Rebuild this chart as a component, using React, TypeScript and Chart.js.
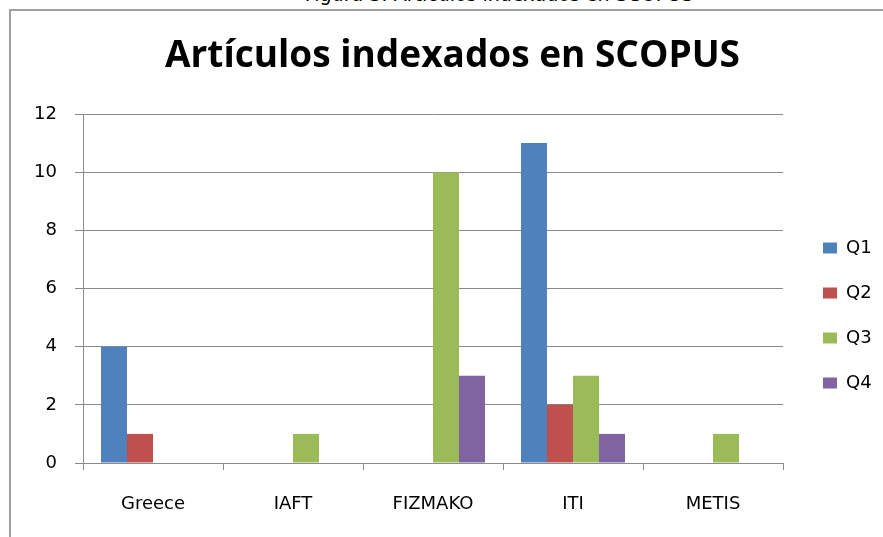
import React, { useEffect, useRef } from 'react';
import { Chart, registerables } from 'chart.js';

Chart.register(...registerables);

// ---- data ----
const categories = ['Greece', 'IAFT', 'FIZMAKO', 'ITI', 'METIS'];
const seriesNames = ['Q1', 'Q2', 'Q3', 'Q4'];
const q1Values = [4, 0, 0, 11, 0];
const q2Values = [1, 0, 0, 2, 0];
const q3Values = [0, 1, 10, 3, 1];
const q4Values = [0, 0, 3, 1, 0];
const yMin = 0;
const yMax = 12;
const yStep = 2;
const chartTitle = 'Artículos indexados en SCOPUS';
const captionText = 'Figura 3: Artículos indexados en SCOPUS';

// ---- styles ----
const seriesColors = ['#4F81BD', '#C0504D', '#9BBB59', '#8064A2'];
const gridColor = '#8a8a8a';
const labelFont = { family: '"DejaVu Sans", sans-serif', size: 18 };
const CANVAS_W = 883;
const CANVAS_H = 537;
const PLOT_RIGHT = 783;
const PLOT_BOTTOM = 463;
const Y_AXIS_WIDTH = 83;
const TITLE_SHIFT_X = 11;
const LEGEND_LEFT = 796;
const LEGEND_SHIFT_Y = 47;

const nudgePlugin = {
  id: 'nudge',
  afterLayout(chart: any) {
    const t = chart.titleBlock;
    if (t) {
      t.left += TITLE_SHIFT_X;
      t.right += TITLE_SHIFT_X;
    }
    const lg = chart.legend;
    if (lg) {
      const dx = LEGEND_LEFT - lg.left;
      lg.left += dx;
      lg.right += dx;
      lg.top += LEGEND_SHIFT_Y;
      lg.bottom += LEGEND_SHIFT_Y;
    }
  },
};

export default function App() {
  const ref = useRef<HTMLCanvasElement>(null);

  useEffect(() => {
    if (!ref.current) return;
    const seriesValues = [q1Values, q2Values, q3Values, q4Values];
    const chart = new Chart(ref.current, {
      type: 'bar',
      data: {
        labels: categories,
        datasets: seriesNames.map((name, i) => ({
          label: name,
          data: seriesValues[i],
          backgroundColor: seriesColors[i],
          borderWidth: 0,
          categoryPercentage: 0.743,
          barPercentage: 1.0,
          yAxisID: 'y',
        })),
      },
      options: {
        responsive: false,
        animation: false,
        layout: { padding: 0 },
        plugins: {
          title: {
            display: true,
            text: chartTitle,
            color: '#000',
            font: { family: '"Open Sans", sans-serif', size: 37, weight: 'bold' },
            padding: { top: 34, bottom: 35.6 },
          },
          legend: {
            position: 'right',
            labels: {
              boxWidth: 14,
              boxHeight: 11,
              padding: 27,
              color: '#000',
              font: labelFont,
            },
          },
          tooltip: { enabled: false },
        },
        scales: {
          x: {
            offset: true,
            grid: {
              offset: true,
              drawOnChartArea: false,
              drawTicks: true,
              tickLength: 7,
              color: gridColor,
            },
            border: { display: true, color: gridColor },
            ticks: { color: '#000', font: labelFont, padding: 24, maxRotation: 0 },
            afterFit: (s: any) => {
              s.height = CANVAS_H - PLOT_BOTTOM;
            },
          },
          y: {
            min: yMin,
            max: yMax,
            position: 'left',
            ticks: { stepSize: yStep, color: '#000', font: labelFont, padding: 18 },
            grid: { color: gridColor, tickLength: 8 },
            border: { display: true, color: gridColor },
            afterFit: (s: any) => {
              s.width = Y_AXIS_WIDTH;
            },
          },
          yPad: {
            type: 'linear',
            position: 'right',
            display: true,
            ticks: { display: false },
            grid: { display: false, drawTicks: false },
            border: { display: false },
            afterFit: (s: any) => {
              const lw = s.chart.legend ? s.chart.legend.width : 0;
              s.width = Math.max(0, CANVAS_W - PLOT_RIGHT - lw);
            },
          },
        },
      },
      plugins: [nudgePlugin],
    } as any);
    return () => chart.destroy();
  }, []);

  return (
    <div
      style={{
        position: 'absolute',
        left: 0,
        top: 0,
        width: CANVAS_W,
        height: CANVAS_H,
        overflow: 'hidden',
        background: '#fff',
      }}
    >
      <div
        style={{
          position: 'absolute',
          left: 9,
          top: 9,
          width: 1000,
          height: 1000,
          borderLeft: '2px solid #a0a0a0',
          borderTop: '2px solid #a0a0a0',
        }}
      />
      <div
        style={{
          position: 'absolute',
          left: 0,
          top: -15,
          width: 998,
          textAlign: 'center',
          whiteSpace: 'nowrap',
          fontFamily: '"DejaVu Sans", sans-serif',
          fontSize: 19,
          lineHeight: '19px',
          color: '#000',
        }}
      >
        {captionText}
      </div>
      <canvas
        ref={ref}
        width={CANVAS_W}
        height={CANVAS_H}
        style={{ position: 'absolute', left: 0, top: 0, display: 'block' }}
      />
    </div>
  );
}
